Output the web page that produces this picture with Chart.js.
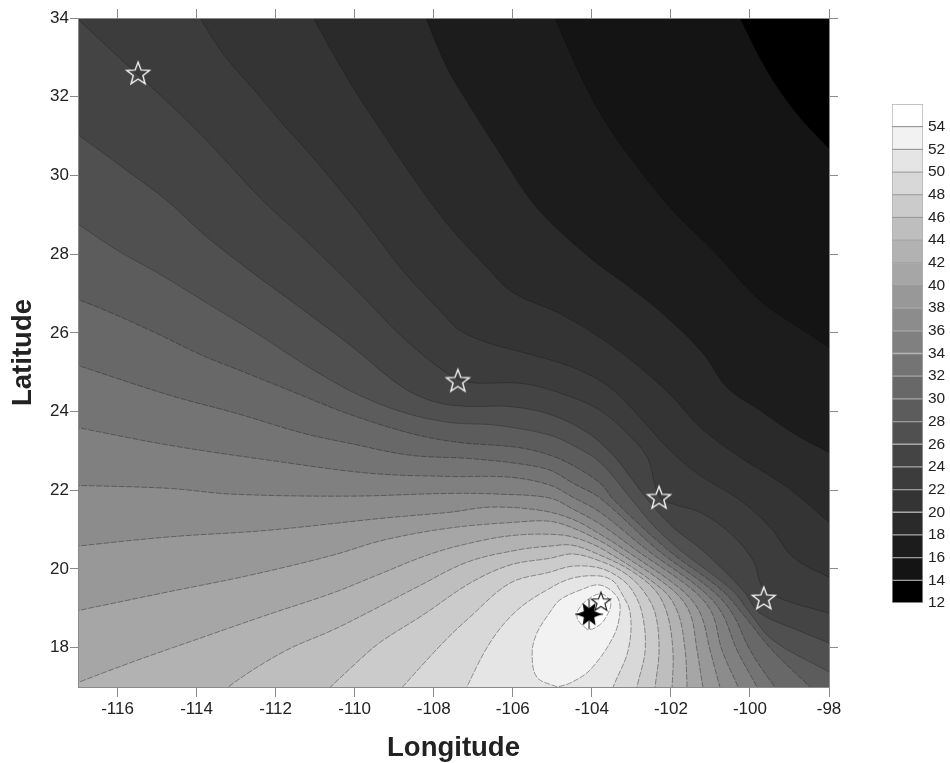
<!DOCTYPE html>
<html>
<head>
<meta charset="utf-8">
<title>Contour map</title>
<script src="https://cdn.jsdelivr.net/npm/chart.js@4"></script>
<style>
	html, body { margin: 0; padding: 0; background: #fff; }
	#wrap { position: relative; width: 950px; height: 763px; overflow: hidden; }
	canvas { position: absolute; }
	#map { left: 0; top: 0; }
	#bar { left: 870px; top: 80px; }
</style>
</head>
<body>
<div id="wrap">
	<canvas id="map" width="950" height="763"></canvas>
	<canvas id="bar" width="80" height="560"></canvas>
</div>
<script>
const lonTicks = [-116, -114, -112, -110, -108, -106, -104, -102, -100, -98];
const latTicks = [18, 20, 22, 24, 26, 28, 30, 32, 34];
const barTicks = [12, 14, 16, 18, 20, 22, 24, 26, 28, 30, 32, 34, 36, 38, 40, 42, 44, 46, 48, 50, 52, 54];

const levels = [12, 14, 16, 18, 20, 22, 24, 26, 28, 30, 32, 34, 36, 38, 40, 42, 44, 46, 48, 50, 52, 54];
const greys = [
	"#000000", "#141414", "#1c1c1c", "#2a2a2a", "#343434", "#3c3c3c", "#444444", "#505050",
	"#5c5c5c", "#686868", "#747474", "#808080", "#8c8c8c", "#989898", "#a6a6a6", "#b2b2b2",
	"#bebebe", "#cbcbcb", "#d8d8d8", "#e5e5e5", "#f2f2f2", "#ffffff",
];

// corners just outside the axes, the contour polygons close through them
const offBR = [-97, 16];
const offBL = [-118, 16];
const offTL = [-118, 35];
const offTR = [-97, 35];

const c12 = [offBL, offBR, offTR, offTL];
const c14 = [[-100.40, 34.30], [-99.57, 32.66], [-98.81, 31.56], [-98, 30.68], [-97.72, 30.37]];
const c16 = [[-105.06, 34.30], [-104.38, 32.73], [-103.87, 31.72], [-103.21, 30.70], [-102.02, 29.18], [-100.93, 28.09], [-99.75, 26.82], [-98.73, 26.11], [-98, 25.63], [-97.67, 25.40]];
const c18 = [[-108.32, 34.30], [-107.66, 32.73], [-107.01, 31.64], [-106.32, 30.55], [-105.39, 29.18], [-104.05, 27.91], [-103.03, 27.15], [-102.10, 26.39], [-101.19, 25.48], [-100.58, 24.61], [-99.75, 24.03], [-98.91, 23.45], [-98, 22.96], [-97.67, 22.79]];
const c20 = [[-111.21, 34.30], [-110.19, 32.48], [-109.44, 31.31], [-108.52, 29.94], [-107.66, 28.77], [-106.65, 27.66], [-105.99, 27.02], [-104.88, 26.52], [-103.87, 25.93], [-102.78, 25.12], [-101.95, 24.36], [-101.26, 23.60], [-100.25, 22.84], [-99.06, 22.08], [-98, 21.19], [-97.67, 20.93]];
const c22 = [[-114.09, 34.30], [-113.33, 33.09], [-112.52, 32.15], [-111.89, 31.39], [-111.05, 30.45], [-109.94, 29.10], [-108.78, 27.58], [-107.77, 26.49], [-107.34, 26.06], [-106.58, 25.73], [-105.74, 25.50], [-104.48, 25.12], [-103.54, 24.61], [-102.78, 23.85], [-102.10, 23.09], [-101.34, 22.43], [-100.25, 21.75], [-99.49, 21.06], [-98.91, 20.30], [-98, 19.79], [-97.67, 19.64]];
const c24 = [[-117.30, 34.25], [-116.01, 33.04], [-115.23, 32.33], [-113.91, 31.06], [-112.32, 29.36], [-111.31, 28.42], [-109.87, 27.00], [-108.78, 25.88], [-107.66, 24.97], [-107.08, 24.74], [-105.74, 24.71], [-104.63, 24.41], [-103.79, 24.03], [-103.11, 23.45], [-102.60, 22.84], [-102.28, 21.82], [-101.85, 21.62], [-101.26, 21.44], [-100.50, 20.91], [-99.92, 20.22], [-99.69, 19.54], [-99.32, 19.29], [-98.73, 19.08], [-98, 18.88], [-97.67, 18.78]];
const c26 = [[-117.30, 31.26], [-115.76, 30.12], [-114.75, 29.36], [-113.84, 28.52], [-112.65, 27.58], [-111.38, 26.64], [-110.04, 25.63], [-108.78, 24.61], [-107.92, 24.23], [-107.08, 24.13], [-106.15, 24.13], [-105.13, 23.95], [-104.12, 23.47], [-103.46, 22.89], [-102.96, 22.25], [-102.58, 21.75], [-101.95, 21.06], [-101.21, 20.48], [-100.18, 19.46], [-99.75, 18.88], [-98.81, 18.45], [-98, 18.12], [-97.67, 17.99]];
const c28 = [[-117.30, 28.98], [-116.11, 28.16], [-115.00, 27.53], [-113.84, 26.82], [-112.47, 25.98], [-111.31, 25.22], [-110.04, 24.49], [-108.78, 23.98], [-107.59, 23.72], [-106.40, 23.65], [-105.06, 23.40], [-104.48, 23.14], [-103.79, 22.71], [-102.98, 21.75], [-102.40, 21.06], [-101.77, 20.48], [-100.45, 19.46], [-100.00, 18.88], [-99.42, 18.19], [-98, 17.38], [-97.67, 17.18]];
const c30 = [[-117.30, 26.97], [-116.19, 26.52], [-115.00, 25.98], [-113.84, 25.42], [-112.72, 24.97], [-111.46, 24.46], [-110.19, 23.95], [-108.60, 23.45], [-107.41, 23.22], [-105.89, 23.09], [-105.06, 22.89], [-104.48, 22.63], [-103.79, 22.18], [-103.44, 21.75], [-102.07, 20.48], [-100.71, 19.46], [-100.20, 18.88], [-99.44, 17.94], [-98.48, 17], [-98.18, 16.70]];
const c32 = [[-117.30, 25.27], [-114.67, 24.41], [-112.98, 23.95], [-111.31, 23.45], [-110.12, 23.19], [-108.60, 22.89], [-107.16, 22.81], [-105.89, 22.68], [-105.06, 22.51], [-104.48, 22.18], [-103.79, 21.80], [-102.33, 20.48], [-100.96, 19.46], [-100.45, 18.88], [-100.00, 17.94], [-99.37, 17], [-99.11, 16.70]];
const c34 = [[-117.30, 23.65], [-114.67, 23.14], [-112.14, 22.76], [-109.61, 22.43], [-107.59, 22.35], [-106.07, 22.33], [-105.06, 22.13], [-104.48, 21.82], [-103.79, 21.44], [-102.60, 20.48], [-101.21, 19.46], [-100.71, 18.88], [-100.33, 17.94], [-99.82, 17], [-99.67, 16.70]];
const c36 = [[-117.30, 22.13], [-114.75, 22.05], [-113.08, 21.90], [-110.12, 21.85], [-107.59, 21.92], [-106.32, 21.90], [-105.06, 21.80], [-104.48, 21.52], [-103.79, 21.14], [-102.88, 20.48], [-101.44, 19.46], [-100.96, 18.88], [-100.71, 17.94], [-100.30, 17], [-100.18, 16.70]];
const c38 = [[-117.30, 20.55], [-114.75, 20.81], [-112.22, 20.98], [-109.28, 21.29], [-107.59, 21.44], [-106.58, 21.57], [-105.31, 21.49], [-104.48, 21.26], [-103.79, 20.88], [-103.16, 20.48], [-101.72, 19.46], [-101.26, 18.88], [-101.01, 17.94], [-100.76, 17], [-100.66, 16.70]];
const c40 = [[-117.30, 18.88], [-114.75, 19.41], [-112.65, 19.84], [-110.55, 20.35], [-109.28, 20.73], [-107.59, 21.04], [-105.89, 21.19], [-105.06, 21.21], [-104.48, 21.04], [-103.79, 20.71], [-103.41, 20.48], [-101.95, 19.46], [-101.52, 18.88], [-101.34, 17.94], [-101.19, 17], [-101.11, 16.70]];
const c42 = [[-117.30, 17.00], [-115.61, 17.64], [-113.74, 18.30], [-112.22, 18.83], [-110.55, 19.39], [-109.44, 19.84], [-108.02, 20.40], [-106.75, 20.73], [-105.89, 20.86], [-105.06, 20.88], [-104.48, 20.81], [-103.69, 20.48], [-102.20, 19.46], [-101.82, 18.88], [-101.64, 17.94], [-101.59, 17], [-101.57, 16.70]];
const c44 = [[-113.41, 16.70], [-113.20, 17], [-111.81, 17.89], [-110.55, 18.45], [-109.69, 18.88], [-108.42, 19.54], [-107.16, 20.17], [-105.89, 20.48], [-105.06, 20.58], [-104.48, 20.60], [-103.79, 20.35], [-103.03, 19.97], [-102.40, 19.46], [-102.10, 18.88], [-101.95, 17.94], [-101.97, 17], [-102.00, 16.70]];
const c46 = [[-110.93, 16.70], [-109.69, 17.86], [-109.28, 18.19], [-108.27, 18.83], [-107.08, 19.64], [-106.07, 20.10], [-105.06, 20.27], [-104.48, 20.38], [-103.79, 20.20], [-103.16, 19.89], [-102.71, 19.46], [-102.40, 18.88], [-102.30, 17.94], [-102.40, 17], [-102.43, 16.70]];
const c48 = [[-109.06, 16.70], [-107.77, 18.12], [-107.08, 18.78], [-106.07, 19.64], [-105.06, 19.92], [-104.48, 20.07], [-103.79, 20.02], [-103.29, 19.77], [-102.98, 19.46], [-102.73, 18.88], [-102.65, 17.94], [-102.86, 17], [-102.91, 16.70]];
const c50 = [[-107.31, 16.70], [-106.58, 18.12], [-105.89, 18.95], [-105.06, 19.51], [-104.48, 19.77], [-103.79, 19.82], [-103.46, 19.69], [-103.29, 19.46], [-103.03, 18.88], [-103.08, 17.94], [-103.46, 17], [-103.54, 16.70]];
const c52 = [[-104.88, 17], [-105.39, 17.25], [-105.51, 17.86], [-105.39, 18.37], [-105.06, 18.90], [-104.81, 19.21], [-104.30, 19.46], [-103.79, 19.59], [-103.36, 19.29], [-103.29, 18.88], [-103.46, 18.27], [-104.05, 17.43], [-104.55, 17.10], [-104.88, 17]];
const c54 = [[-104.10, 18.45], [-104.35, 18.70], [-104.35, 18.95], [-104.05, 19.26], [-103.74, 19.36], [-103.52, 19.13], [-103.69, 18.70], [-103.92, 18.50], [-104.10, 18.45]];

const contours = [c12, c14, c16, c18, c20, c22, c24, c26, c28, c30, c32, c34, c36, c38, c40, c42, c44, c46, c48, c50, c52, c54];
const closures = [
	[], [offBR, offBL, offTL], [offBR, offBL, offTL], [offBR, offBL, offTL], [offBR, offBL, offTL], [offBR, offBL, offTL],
	[offBR, offBL], [offBR, offBL], [offBR, offBL],
	[offBL], [offBL], [offBL], [offBL], [offBL], [offBL], [offBL],
	[], [], [], [], [], [],
];

const starLon = [-115.48, -107.39, -102.30, -99.65];
const starLat = [32.60, 24.79, 21.82, 19.26];
const nearStarLon = [-103.77];
const nearStarLat = [19.18];
const mainLon = [-104.07];
const mainLat = [18.85];

function starCanvas(radius, stroke, lineWidth) {
	const size = radius * 2 + 6;
	const c = document.createElement("canvas");
	c.width = size;
	c.height = size;
	const ctx = c.getContext("2d");
	ctx.translate(size / 2, size / 2 + 1);
	ctx.beginPath();
	for (let i = 0; i < 10; i++) {
		const r = i % 2 ? radius * 0.42 : radius;
		const a = -Math.PI / 2 + i * Math.PI / 5;
		ctx.lineTo(Math.cos(a) * r, Math.sin(a) * r);
	}
	ctx.closePath();
	ctx.strokeStyle = stroke;
	ctx.lineWidth = lineWidth;
	ctx.stroke();
	return c;
}

function mainShockCanvas() {
	const c = document.createElement("canvas");
	c.width = 32;
	c.height = 32;
	const ctx = c.getContext("2d");
	ctx.translate(16, 16);
	ctx.fillStyle = "#000";
	ctx.beginPath();
	for (let i = 0; i < 12; i++) {
		const r = i % 2 ? 6 : 13;
		const a = i * Math.PI / 6 + Math.PI / 3;
		ctx.lineTo(Math.cos(a) * r, Math.sin(a) * r);
	}
	ctx.closePath();
	ctx.fill();
	ctx.strokeStyle = "#000";
	ctx.lineWidth = 1;
	ctx.beginPath();
	ctx.moveTo(-14, 0);
	ctx.lineTo(14, 0);
	ctx.moveTo(0, -15);
	ctx.lineTo(0, 15);
	ctx.stroke();
	return c;
}

const toPoints = (pairs) => pairs.map(([x, y]) => ({ x, y }));

const regionSets = contours.map((line, i) => ({
	data: toPoints(line.concat(closures[i])),
	showLine: true,
	fill: "shape",
	backgroundColor: greys[i],
	borderColor: i === 0 ? "transparent" : (levels[i] >= 30 ? "rgba(30,30,30,0.6)" : "rgba(10,10,10,0.35)"),
	borderWidth: i === 0 ? 0 : 0.7,
	borderDash: levels[i] >= 30 ? [6, 1.5] : [],
	tension: i === 0 ? 0 : 0.35,
	pointRadius: 0,
	order: 100 - i,
}));

const markerSets = [
	{
		data: starLon.map((x, i) => ({ x, y: starLat[i] })),
		pointStyle: starCanvas(12, "#f4f4f4", 1.4),
		pointRadius: 12,
		showLine: false,
		order: 2,
	},
	{
		data: nearStarLon.map((x, i) => ({ x, y: nearStarLat[i] })),
		pointStyle: starCanvas(10, "#222", 1.2),
		pointRadius: 10,
		showLine: false,
		order: 1,
	},
	{
		data: mainLon.map((x, i) => ({ x, y: mainLat[i] })),
		pointStyle: mainShockCanvas(),
		pointRadius: 14,
		showLine: false,
		order: 0,
	},
];

const tickFont = { family: "'Liberation Sans', Arial, sans-serif", size: 17 };
const titleFont = { family: "'Liberation Sans', Arial, sans-serif", size: 27.5, weight: "bold" };
const axisGrey = "#8a8a8a";

const useTicks = (values) => (scale) => {
	scale.ticks = values.map((value) => ({ value }));
};

new Chart(document.querySelector("#map"), {
	type: "scatter",
	data: { datasets: regionSets.concat(markerSets) },
	options: {
		responsive: false,
		animation: false,
		events: [],
		layout: { padding: { left: 0, right: 111, top: 0, bottom: 0 } },
		plugins: { legend: { display: false }, tooltip: { enabled: false } },
		scales: {
			x: {
				type: "linear",
				position: "bottom",
				min: -117,
				max: -98,
				afterBuildTicks: useTicks(lonTicks),
				afterFit: (s) => { s.height = 76; },
				grid: { drawOnChartArea: false, tickLength: 10, color: axisGrey },
				border: { color: axisGrey, z: 1 },
				ticks: { font: tickFont, color: "#222", padding: 2, maxRotation: 0, autoSkip: false },
				title: { display: true, text: "Longitude", font: titleFont, color: "#222", padding: { top: 0, bottom: -2 } },
			},
			y: {
				type: "linear",
				position: "left",
				min: 17,
				max: 34,
				afterBuildTicks: useTicks(latTicks),
				afterFit: (s) => { s.width = 78; },
				grid: { drawOnChartArea: false, tickLength: 8, color: axisGrey },
				border: { color: axisGrey, z: 1 },
				ticks: { font: tickFont, color: "#222", padding: 1, autoSkip: false },
				title: { display: true, text: "Latitude", font: titleFont, color: "#222", padding: { top: 7, bottom: 0 } },
			},
			x2: {
				type: "linear",
				position: "top",
				min: -117,
				max: -98,
				afterBuildTicks: useTicks(lonTicks),
				afterFit: (s) => { s.height = 18; },
				grid: { drawOnChartArea: false, tickLength: 9, color: axisGrey },
				border: { color: axisGrey, z: 1 },
				ticks: { callback: () => "", autoSkip: false },
			},
			y2: {
				type: "linear",
				position: "right",
				min: 17,
				max: 34,
				afterBuildTicks: useTicks(latTicks),
				afterFit: (s) => { s.width = 10; },
				grid: { drawOnChartArea: false, tickLength: 9, color: axisGrey },
				border: { color: axisGrey, z: 1 },
				ticks: { callback: () => "", autoSkip: false },
			},
		},
	},
});

new Chart(document.querySelector("#bar"), {
	type: "bar",
	data: {
		labels: [""],
		datasets: levels.map((level, i) => ({
			data: [[level, level + 2]],
			backgroundColor: greys[i],
			borderColor: "rgba(110,110,110,0.55)",
			borderWidth: 1,
			borderSkipped: false,
		})),
	},
	options: {
		responsive: false,
		animation: false,
		events: [],
		datasets: { bar: { grouped: false, barPercentage: 1, categoryPercentage: 1 } },
		layout: { padding: { left: 22, right: 0, top: 24, bottom: 37 } },
		plugins: { legend: { display: false }, tooltip: { enabled: false } },
		scales: {
			x: { display: false },
			y: {
				position: "right",
				min: 12,
				max: 56,
				afterBuildTicks: useTicks(barTicks),
				afterFit: (s) => { s.width = 27; },
				grid: { display: false, drawTicks: false },
				border: { display: false },
				ticks: { font: { family: "'Liberation Sans', Arial, sans-serif", size: 15.5 }, color: "#222", padding: 5, autoSkip: false },
			},
		},
	},
});
</script>
</body>
</html>
